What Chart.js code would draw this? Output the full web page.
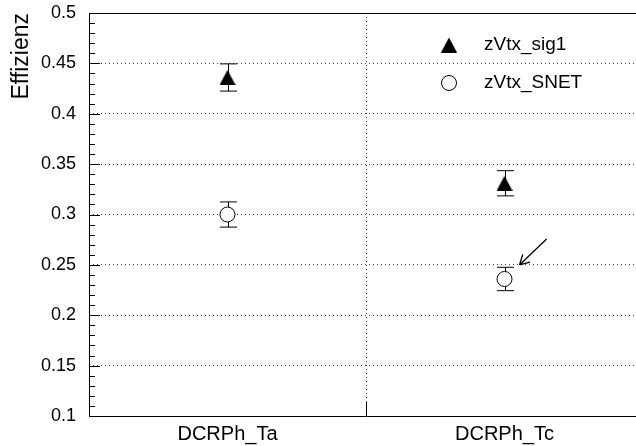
<!DOCTYPE html>
<html>
<head>
<meta charset="utf-8">
<script src="https://cdn.jsdelivr.net/npm/chart.js@4.4.1/dist/chart.umd.min.js"></script>
<style>
  html, body { margin: 0; padding: 0; background: #fff; overflow: hidden; }
  #wrap { width: 700px; height: 446px; }
</style>
</head>
<body>
<div id="wrap"><canvas id="effChart" width="700" height="446"></canvas></div>
<script>
// categories and measured efficiencies (value +- error)
const categories = ['DCRPh_Ta', 'DCRPh_Tc'];
const seriesLabels = ['zVtx_sig1', 'zVtx_SNET'];
const sig1Values = [0.436, 0.331];
const sig1Errors = [0.0135, 0.0125];
const snetValues = [0.300, 0.236];
const snetErrors = [0.0125, 0.0116];
const yMin = 0.1, yMax = 0.5, yStep = 0.05;
// arrow annotation in data coordinates [category position, efficiency]
const arrowFrom = [1.152, 0.2757];
const arrowTo = [1.054, 0.2499];

// filled triangle marker, centred on its bounding box
const tri = document.createElement('canvas');
tri.width = 16; tri.height = 15;
const tctx = tri.getContext('2d');
tctx.fillStyle = '#000';
tctx.beginPath();
tctx.moveTo(8, 0); tctx.lineTo(16, 15); tctx.lineTo(0, 15);
tctx.closePath(); tctx.fill();

const FONT = 'Liberation Sans, Arial, Helvetica, sans-serif';

// frame + inward ticks like ROOT
const frameTicks = {
  id: 'frameTicks',
  beforeDatasetsDraw(chart) {
    const {ctx, chartArea: a, scales: {x, y}} = chart;
    ctx.save();
    ctx.strokeStyle = '#000';
    ctx.lineWidth = 1;
    ctx.beginPath();
    ctx.rect(a.left + 0.5, a.top + 0.5, a.right - a.left, a.bottom - a.top);
    // y major + minor ticks
    const vals = y.ticks.map(t => t.value);
    vals.forEach((v, i) => {
      const py = Math.round(y.getPixelForValue(v)) + 0.5;
      ctx.moveTo(a.left, py); ctx.lineTo(a.left + 11, py);
      if (i < vals.length - 1) {
        const d = (vals[i + 1] - v) / 5;
        for (let k = 1; k < 5; k++) {
          const my = Math.round(y.getPixelForValue(v + k * d)) + 0.5;
          ctx.moveTo(a.left, my); ctx.lineTo(a.left + 6, my);
        }
      }
    });
    // x ticks at category boundaries
    for (let i = 1; i < categories.length; i++) {
      const px = Math.round(x.getPixelForValue(i - 0.5)) + 0.5;
      ctx.moveTo(px, a.bottom); ctx.lineTo(px, a.bottom - 14);
    }
    ctx.stroke();
    ctx.restore();
  }
};

const errorBars = {
  id: 'errorBars',
  beforeDatasetsDraw(chart) {
    const {ctx, scales: {y}} = chart;
    ctx.save();
    ctx.strokeStyle = '#000';
    ctx.lineWidth = 1;
    chart.data.datasets.forEach((ds, i) => {
      chart.getDatasetMeta(i).data.forEach((pt, j) => {
        const v = ds.data[j], e = ds.errors[j];
        const top = y.getPixelForValue(v + e), bot = y.getPixelForValue(v - e);
        const px = Math.round(pt.x) + 0.5;
        ctx.beginPath();
        ctx.moveTo(px, top); ctx.lineTo(px, bot);
        ctx.moveTo(px - 8.5, top); ctx.lineTo(px + 8.5, top);
        ctx.moveTo(px - 8.5, bot); ctx.lineTo(px + 8.5, bot);
        ctx.stroke();
      });
    });
    ctx.restore();
  }
};

const legendArrow = {
  id: 'legendArrow',
  afterDatasetsDraw(chart) {
    const {ctx, chartArea: a, scales: {x, y}} = chart;
    ctx.save();
    // legend inside the frame
    const mx = a.left + 360, tx = a.left + 395;
    const rows = [a.top + 32, a.top + 70];
    ctx.font = '19px ' + FONT;
    ctx.fillStyle = '#000';
    ctx.textBaseline = 'middle';
    chart.data.datasets.forEach((ds, i) => {
      const ry = rows[i];
      if (ds.pointStyle === tri) {
        ctx.drawImage(tri, mx - 8, ry - 7.5);
      } else {
        ctx.beginPath();
        ctx.arc(mx, ry, 7.5, 0, Math.PI * 2);
        ctx.fillStyle = '#fff'; ctx.fill();
        ctx.strokeStyle = '#000'; ctx.lineWidth = 1; ctx.stroke();
        ctx.fillStyle = '#000';
      }
      ctx.fillText(ds.label, tx, ry);
    });
    // arrow
    const x0 = x.getPixelForValue(arrowFrom[0]), y0 = y.getPixelForValue(arrowFrom[1]);
    const x1 = x.getPixelForValue(arrowTo[0]), y1 = y.getPixelForValue(arrowTo[1]);
    const ang = Math.atan2(y1 - y0, x1 - x0);
    ctx.strokeStyle = '#000';
    ctx.lineWidth = 1.3;
    ctx.beginPath();
    ctx.moveTo(x0, y0); ctx.lineTo(x1, y1);
    [-0.5, 0.5].forEach(d => {
      ctx.moveTo(x1, y1);
      ctx.lineTo(x1 - 11 * Math.cos(ang + d), y1 - 11 * Math.sin(ang + d));
    });
    ctx.stroke();
    ctx.restore();
  }
};

new Chart(document.getElementById('effChart'), {
  type: 'line',
  data: {
    labels: categories,
    datasets: [{
      label: seriesLabels[0],
      data: sig1Values,
      errors: sig1Errors,
      showLine: false,
      pointStyle: tri,
      pointRadius: 8,
      pointBackgroundColor: '#000',
      pointBorderColor: '#000'
    }, {
      label: seriesLabels[1],
      data: snetValues,
      errors: snetErrors,
      showLine: false,
      pointStyle: 'circle',
      pointRadius: 7.5,
      pointBorderWidth: 1,
      pointBackgroundColor: '#fff',
      pointBorderColor: '#000'
    }]
  },
  options: {
    responsive: false,
    animation: false,
    events: [],
    layout: { padding: { top: 13, right: 57, left: 0, bottom: 0 } },
    plugins: { legend: { display: false }, tooltip: { enabled: false } },
    scales: {
      x: {
        type: 'category',
        offset: true,
        grid: {
          offset: true,
          drawTicks: false,
          color: c => c.index === 1 ? '#444' : 'rgba(0,0,0,0)',
          lineWidth: 1
        },
        border: { display: false, dash: [1, 3] },
        ticks: { color: '#000', font: { family: FONT, size: 20 }, padding: 6 },
        afterFit: s => { s.height = 30; s.paddingLeft = 0; s.paddingRight = 0; }
      },
      y: {
        min: yMin,
        max: yMax,
        grid: {
          drawTicks: false,
          color: c => (c.tick && (Math.abs(c.tick.value - yMin) < 1e-6 || Math.abs(c.tick.value - yMax) < 1e-6)) ? 'rgba(0,0,0,0)' : '#444',
          lineWidth: 1
        },
        border: { display: false, dash: [1, 3] },
        ticks: {
          stepSize: yStep,
          color: '#000',
          font: { family: FONT, size: 18 },
          padding: 13,
          callback: v => String(+v.toFixed(2))
        },
        title: {
          display: true,
          text: 'Effizienz',
          align: 'end',
          color: '#000',
          font: { family: FONT, size: 23 },
          padding: { top: 8, bottom: 0 }
        },
        afterFit: s => { s.width = 89; s.paddingTop = 0; s.paddingBottom = 0; }
      }
    }
  },
  plugins: [frameTicks, errorBars, legendArrow]
});
</script>
</body>
</html>
